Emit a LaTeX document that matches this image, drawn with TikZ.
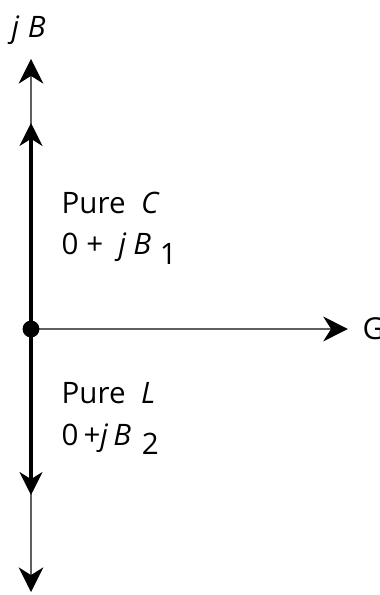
\documentclass[tikz,border=0pt]{standalone}
\usepackage{fontspec}
\setmainfont{Open Sans}
\usetikzlibrary{arrows.meta}
\definecolor{axisgray}{RGB}{95,95,95}
\tikzset{
  thinax/.style  = {draw=axisgray, line width=0.6pt,
                    -{Stealth[length=7pt, width=7pt, inset=2.2pt, fill=black, color=black]}},
  thickax/.style = {draw=black, line width=1.4pt,
                    -{Stealth[length=6.5pt, width=6.5pt, inset=2pt]}},
  lbl/.style     = {font=\fontsize{8.4}{11.8}\selectfont, align=left, inner sep=0pt},
}

\begin{document}
\begin{tikzpicture}[x=0.01cm, y=-0.01cm]
  \useasboundingbox (0,0) rectangle (380,595);
  % axes
  \coordinate (O) at (31,329);
  \coordinate (topthin) at (31,59);
  \coordinate (topthick) at (31,123);
  \coordinate (botthick) at (31,495);
  \coordinate (botthin) at (31,592);
  \node[lbl, anchor=base west] (jb) at (11,38) {\textit{j}\hspace{2.4pt}\textit{B}};
  \node[lbl, anchor=west, font=\fontsize{8.6}{10}\selectfont] (g) at (362,329) {G};
  \draw[thinax] (O) -- (topthin);
  \draw[thinax] (O) -- (botthin);
  \draw[thickax] (O) -- (topthick);
  \draw[thickax] (O) -- (botthick);
  \draw[thinax, shorten >=4pt] (O) -- (g.west);
  \fill (O) circle (2.4pt);
  % labels
  \node[lbl, anchor=north west] (purec) at (61,191)
    {Pure \ \textit{C}\\0 + \ \textit{j}\hspace{2pt}\textit{B}\hspace{2.5pt}\raisebox{-0.6ex}{1}};
  \node[lbl, anchor=north west] (purel) at (61,382)
    {Pure \ \textit{L}\\0\,+\textit{j}\hspace{1.5pt}\textit{B}\hspace{3pt}\raisebox{-0.6ex}{2}};
\end{tikzpicture}
\end{document}
